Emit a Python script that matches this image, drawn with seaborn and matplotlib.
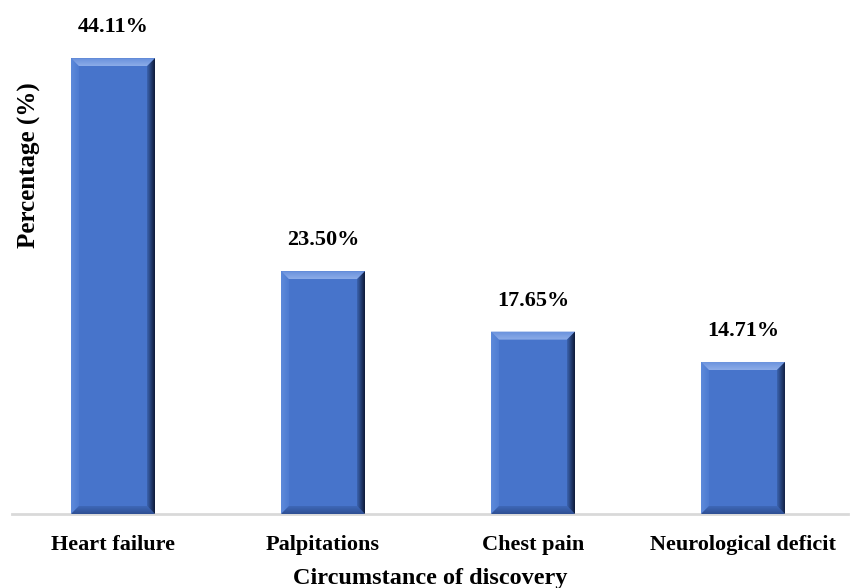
import numpy as np
import pandas as pd
import matplotlib
matplotlib.use("Agg")
import matplotlib.pyplot as plt
from matplotlib.patches import Polygon
from matplotlib.colors import to_rgb
import seaborn as sns

categories = ["Heart failure", "Palpitations", "Chest pain", "Neurological deficit"]
percentages = [44.11, 23.50, 17.65, 14.71]
x_title = "Circumstance of discovery"
y_title = "Percentage (%)"

sns.set_theme(style="white")
plt.rcParams["font.family"] = ["Liberation Serif", "DejaVu Serif"]
plt.rcParams["font.weight"] = "bold"

df = pd.DataFrame({"circumstance": categories, "pct": percentages})

BODY = "#4774CB"

fig = plt.figure(figsize=(8.5, 5.88), dpi=100)
ax = fig.add_axes([12 / 850, 74 / 588, 836 / 850, 496 / 588])
sns.barplot(data=df, x="circumstance", y="pct", color=BODY, width=0.4,
            saturation=1, edgecolor="none", linewidth=0, ax=ax)
ax.set_xlim(-0.481, 3.5)
ax.set_ylim(0, 48)

# Styling: only a light baseline, no ticks
for side in ["left", "right", "top"]:
    ax.spines[side].set_visible(False)
ax.spines["bottom"].set_color("#d9d9d9")
ax.spines["bottom"].set_linewidth(2)
ax.set_yticks([])
ax.tick_params(axis="x", length=0, pad=15, labelsize=16)
for lbl in ax.get_xticklabels():
    lbl.set_fontweight("bold")
    lbl.set_color("black")

ax.set_xlabel(x_title, fontsize=17.5, fontweight="bold", color="black")
ax.xaxis.set_label_coords(0.5, -0.108)
ax.set_ylabel(y_title, fontsize=18, fontweight="bold", color="black")
ax.yaxis.set_label_coords(0.035, 0.703)

# Value labels above each bar
bars = ax.containers[0]
ax.bar_label(bars, labels=[f"{v:.2f}%" for v in percentages], padding=15,
             fontsize=16, fontweight="bold", color="black")

# Bevelled look: gradient facets on each bar edge
fig.canvas.draw()
p0 = ax.transData.transform((0, 0))
p1 = ax.transData.transform((1, 1))
px_x = p1[0] - p0[0]
px_y = p1[1] - p0[1]
bev = 8.0
dx = bev / px_x
dy = bev / px_y


def grad_fill(poly_pts, c_out, c_in, direction):
    poly = Polygon(poly_pts, closed=True, facecolor="none", edgecolor="none",
                   transform=ax.transData)
    ax.add_patch(poly)
    xs = [p[0] for p in poly_pts]
    ys = [p[1] for p in poly_pts]
    n = 64
    t = np.linspace(0, 1, n)
    co = np.array(to_rgb(c_out))
    ci = np.array(to_rgb(c_in))
    cols = co[None, :] * (1 - t[:, None]) + ci[None, :] * t[:, None]
    if direction == "down":      # outer at top
        img = cols[:, None, :]
    elif direction == "up":      # outer at bottom
        img = cols[::-1][:, None, :]
    elif direction == "right":   # outer at left
        img = cols[None, :, :]
    else:                        # outer at right
        img = cols[::-1][None, :, :]
    im = ax.imshow(img, extent=(min(xs), max(xs), min(ys), max(ys)),
                   origin="upper", aspect="auto", interpolation="bilinear",
                   zorder=3)
    im.set_clip_path(poly)


for p in bars.patches:
    x0 = p.get_x()
    x1 = x0 + p.get_width()
    y0 = p.get_y()
    y1 = y0 + p.get_height()
    top = [(x0, y1), (x1, y1), (x1 - dx, y1 - dy), (x0 + dx, y1 - dy)]
    bottom = [(x0, y0), (x1, y0), (x1 - dx, y0 + dy), (x0 + dx, y0 + dy)]
    left = [(x0, y0), (x0 + dx, y0 + dy), (x0 + dx, y1 - dy), (x0, y1)]
    right = [(x1, y0), (x1 - dx, y0 + dy), (x1 - dx, y1 - dy), (x1, y1)]
    grad_fill(left, "#5D8ADA", "#4D7BD1", "right")
    grad_fill(bottom, "#2E4F93", "#3F68B8", "up")
    grad_fill(top, "#6890DC", "#8CACE8", "down")
    grad_fill(right, "#0E1A38", "#3B63B0", "left")

ax.set_xlim(-0.481, 3.5)
ax.set_ylim(0, 48)

fig.savefig("out.png", dpi=100, facecolor="white")
